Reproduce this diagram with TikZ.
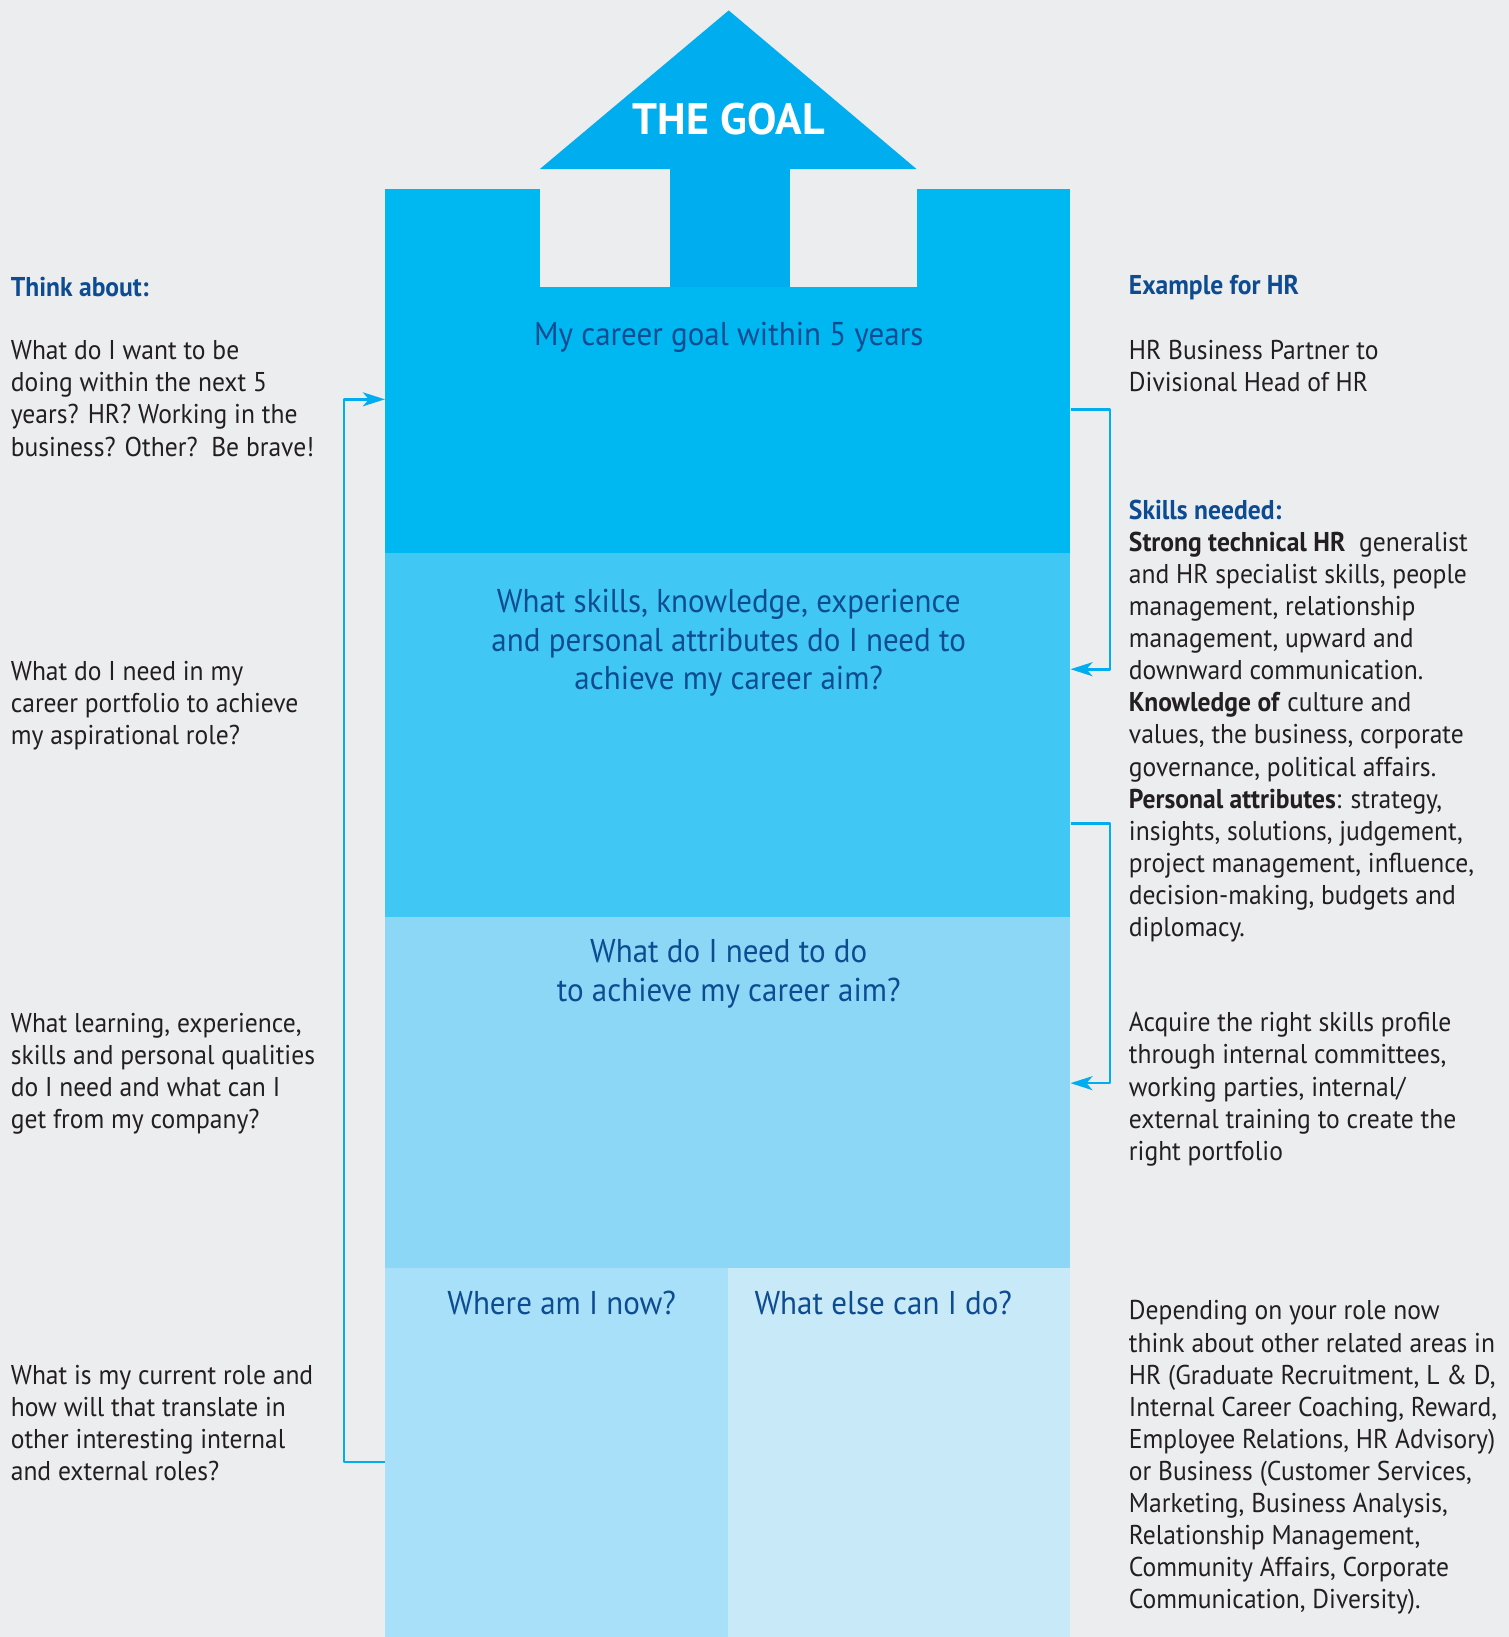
\documentclass[tikz,border=0pt]{standalone}
\usepackage{fontspec}
\setmainfont{PT Sans}[FakeStretch=0.94]
\newfontfamily\titlefont{PT Sans}
\usetikzlibrary{arrows.meta,fit,calc}

\definecolor{paper}{HTML}{ECEDEF}
\definecolor{goalblue}{HTML}{00B8F1}
\definecolor{arrowblue}{HTML}{00AEEF}
\definecolor{skillblue}{HTML}{41C7F4}
\definecolor{todoblue}{HTML}{8CD7F6}
\definecolor{nowblue}{HTML}{A9E0F9}
\definecolor{elseblue}{HTML}{C8E9F8}
\definecolor{navy}{HTML}{0E4C92}
\definecolor{ink}{HTML}{231F20}

\begin{document}
\begin{tikzpicture}[x=0.5222pt,y=-0.5222pt,
  box/.style={inner sep=0pt, draw=none},
  boxtext/.style={text=navy, align=center, font=\fontsize{16.5}{19.3}\selectfont},
  note/.style={anchor=north west, inner sep=0pt, text=ink, align=left, font=\fontsize{13.6}{16.05}\selectfont},
  head/.style={note, text=navy, font=\fontsize{13.6}{16.05}\selectfont\bfseries},
  link/.style={draw=arrowblue, line width=1.3pt, line join=round, -{Stealth[length=11pt,width=7pt,inset=3pt]}}]
\useasboundingbox (0,0) rectangle (1445,1568);
\fill[paper] (0,0) rectangle (1445,1568);

% the four stages
\node[box, fill=goalblue, fit={(369,181)(1025,530)}] (goal) {};
\node[box, fill=skillblue, fit={(369,530)(1025,878)}] (skills) {};
\node[box, fill=todoblue, fit={(369,878)(1025,1215)}] (todo) {};
\node[box, fill=nowblue, fit={(369,1215)(697,1568)}] (now) {};
\node[box, fill=elseblue, fit={(697,1215)(1025,1568)}] (else) {};

% notches and the goal arrow
\fill[paper] (517,181) rectangle (642,275);
\fill[paper] (757,181) rectangle (878,275);
\fill[arrowblue] (642,162) rectangle (757,275);
\fill[arrowblue] (517,162) -- (698,10) -- (878,162) -- cycle;
\node[text=white, font=\fontsize{22}{26}\selectfont\titlefont\bfseries] (goaltitle) at (698,114) {THE GOAL};

\node[boxtext] (goallabel) at (698,323) {My career goal within 5 years};
\node[boxtext] (skilllabel) at (698,616) {What skills, knowledge, experience\\and personal attributes do I need to\\achieve my career aim?};
\node[boxtext] (todolabel) at (698,933) {What do I need to do\\to achieve my career aim?};
\node[boxtext] (nowlabel) at (538,1248) {Where am I now?};
\node[boxtext] (elselabel) at (846,1248) {What else can I do?};

% left column
\node[head] (think) at (10,265) {Think about:};
\node[note] (q1) at (10,326) {What do I want to be\\doing within the next 5\\years? HR? Working in the\\business? Other?\ \ Be brave!};
\node[note] (q2) at (10,633) {What do I need in my\\career portfolio to achieve\\my aspirational role?};
\node[note] (q3) at (10,970) {What learning, experience,\\skills and personal qualities\\do I need and what can I\\get from my company?};
\node[note] (q4) at (10,1307.5) {What is my current role and\\how will that translate in\\other interesting internal\\and external roles?};

% right column
\node[head] (example) at (1081,263.5) {Example for HR};
\node[note] (a1) at (1081,325.5) {HR Business Partner to\\Divisional Head of HR};
\node[note] (a2) at (1081,478.5) {\textcolor{navy}{\bfseries Skills needed:}\\
  \textbf{Strong technical HR}\ \ generalist\\and HR specialist skills, people\\management, relationship\\management, upward and\\downward communication.\\
  \textbf{Knowledge of} culture and\\values, the business, corporate\\governance, political affairs.\\
  \textbf{Personal attributes}: strategy,\\insights, solutions, judgement,\\project management, influence,\\decision-making, budgets and\\diplomacy.};
\node[note] (a3) at (1081,969.5) {Acquire the right skills profile\\through internal committees,\\working parties, internal/\\external training to create the\\right portfolio};
\node[note] (a4) at (1081,1245.5) {Depending on your role now\\think about other related areas in\\HR (Graduate Recruitment, L \& D,\\Internal Career Coaching, Reward,\\Employee Relations, HR Advisory)\\or Business (Customer Services,\\Marketing, Business Analysis,\\Relationship Management,\\Community Affairs, Corporate\\Communication, Diversity).};

% connectors
\draw[link] ($(now.west)+(0,9)$) -- ++(-39,0) |- ($(goal.west)+(0,27)$);
\draw[link] ($(goal.east)+(0,37)$) -- ++(38,0) |- ($(skills.east)+(0,-63)$);
\draw[link] ($(skills.east)+(0,85)$) -- ++(38,0) |- ($(todo.east)+(0,-9)$);
\end{tikzpicture}
\end{document}
